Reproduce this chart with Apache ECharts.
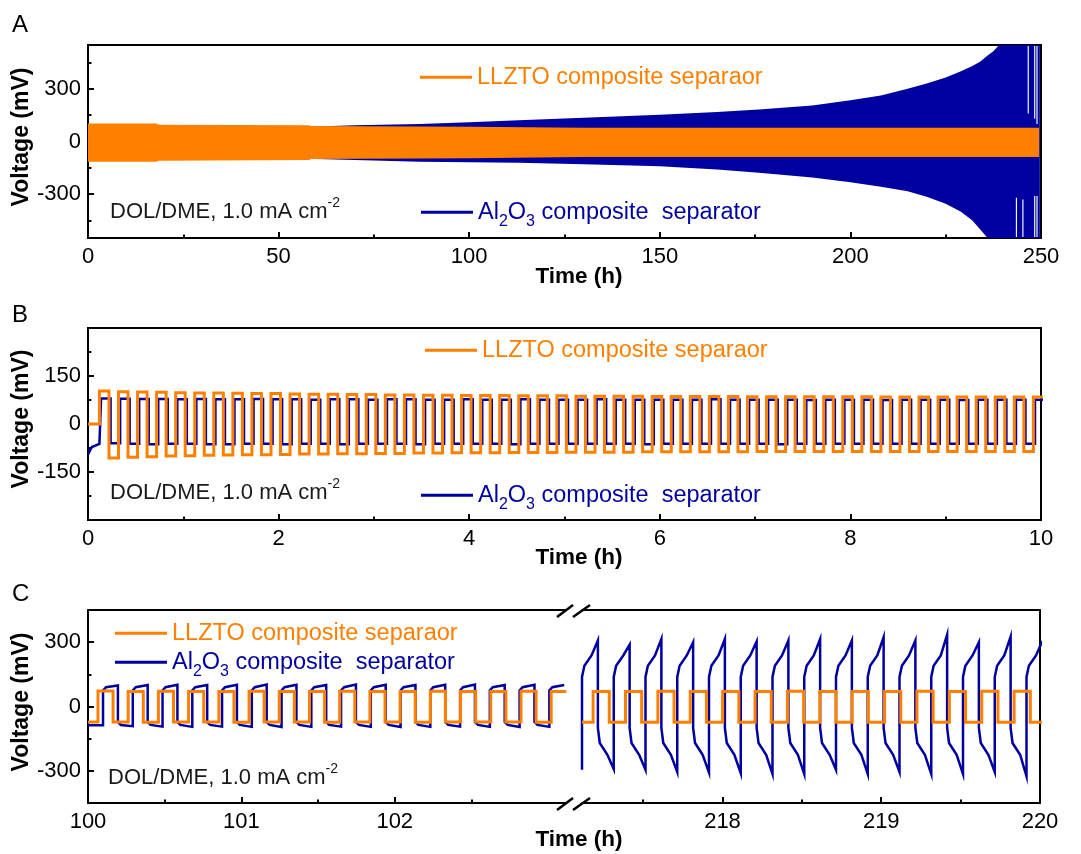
<!DOCTYPE html>
<html><head><meta charset="utf-8">
<script src="https://cdn.jsdelivr.net/npm/echarts@6/dist/echarts.min.js"></script>
<style>html,body{margin:0;padding:0;background:#fff}#c{width:1081px;height:854px}</style>
</head><body><div id="c"></div>
<script>
// ================= DATA =================
const NAME_O = 'LLZTO composite separaor';
const NAME_B = 'Al2O3 composite  separator';

// ---- Panel A: envelope (max / min voltage, mV) of the dense cycling traces vs time (h)
const aOrangeT  = [0, 18, 18.5, 58, 58.5, 100, 130, 249.5];
const aOrangeHi = [102, 102, 95, 92, 88, 84, 79, 79];
const aOrangeLo = [-116, -116, -110, -106, -100, -95, -88, -88];
const aBlueT  = [0, 60, 70, 87, 100, 113, 130, 150, 165, 176, 190, 200, 208, 215, 220, 225, 229, 232, 234, 236,
                 237.5, 239, 243.4, 243.4, 243.7, 243.7, 245.1, 245.1, 245.4, 245.4, 246.5, 246.5, 246.8, 246.8,
                 248.2, 248.2, 248.5, 248.5, 248.8, 248.8, 249.1, 249.1, 249.7];
const aBlueHi = [75, 85, 92, 100, 110, 121, 135, 152, 168, 182, 205, 235, 262, 300, 330, 365, 400, 430, 455, 490,
                 515, 550, 550, 550, 550, 550, 550, 550, 550, 550, 550, 160, 160, 550, 550, 130, 130, 550, 550, 100,
                 100, 550, 550];
const aBlueLo = [-65, -100, -106, -116, -118, -121, -130, -141, -160, -178, -205, -232, -258, -283, -315, -355, -400, -450, -500, -550,
                 -550, -550, -550, -320, -320, -550, -550, -330, -330, -550, -550, -550, -550, -550, -550, -310, -310, -550, -550, -310,
                 -310, -550, -550];

// ---- Panel B: first 10 h, plateau voltage of each half cycle (mV)
const bPeriod = 0.2;
const bOrangeFirst = 0.12, bBlueFirst = 0.137;
const bOrangePreT = [0], bOrangePreV = [0];
const bBluePreT = [0, 0.04, 0.12], bBluePreV = [-95, -72, -62];
const bOrangeHi = [103,101,100,99,98, 97,97,96,95,95, 94,93,93,92,92, 91,91,90,90,89, 89,89,88,88,88,
                   87,87,87,87,86, 86,86,86,86,85, 85,85,85,85,85, 85,84,84,84,84, 84,84,84,84,84];
const bOrangeLo = [-106,-104,-102,-100,-99, -98,-97,-96,-96,-95, -94,-94,-93,-93,-92, -92,-91,-91,-90,-90,
                   -90,-89,-89,-89,-88, -88,-88,-88,-87,-87, -87,-87,-87,-87,-86, -86,-86,-86,-86,-86,
                   -86,-86,-86,-86,-86, -86,-86,-86,-86];
const bBlueHi = [80,79,78,78,77, 78,77,77,78,77, 77,76,77,77,76, 77,77,76,76,77, 76,76,77,76,76,
                 76,77,76,76,76, 76,76,77,76,76, 76,76,75,76,76, 76,75,76,76,76, 75,76,76,76,76];
const bBlueLo = [-60,-62,-63,-62,-62, -63,-63,-62,-62,-63, -62,-62,-63,-62,-62, -62,-63,-62,-62,-62,
                 -62,-63,-62,-62,-62, -62,-62,-62,-63,-62, -62,-62,-62,-62,-62, -63,-62,-62,-62,-62,
                 -62,-62,-62,-62,-62, -62,-62,-62,-62];

// ---- Panel C left (100 - 103.11 h)
const cLeftRange = [100, 103.11];
const cLOrangeFirst = 100.065, cLOrangePeriod = 0.197;
const cLOrangePreT = [100], cLOrangePreV = [-72];
const cLOrangeHi = [72, 70, 71, 70, 70, 71, 70, 70, 71, 70, 70, 71, 70, 70, 71, 70];
const cLOrangeLo = [-72, -73, -72, -72, -73, -72, -72, -73, -72, -72, -73, -72, -72, -72, -73];
const cLBlueFirst = 100.098, cLBluePeriod = 0.194;
const cLBluePreT = [100], cLBluePreV = [-88];
const cLBlueHi = [98, 100, 101, 100, 101, 102, 101, 100, 102, 101, 100, 101, 102, 100, 101, 100];
const cLBlueLo = [-92, -94, -95, -94, -95, -96, -95, -94, -95, -96, -95, -94, -95, -96, -95];
const cLBluePosProfile = [[0, 75], [0.2, 90]];     // [fraction of half cycle, mV]
const cLBlueNegProfile = [[0, -72], [0.2, -86]];

// ---- Panel C right (217.115 - 220 h)
const cRightRange = [217.115, 220];
const cROrangeFirst = 217.185, cROrangePeriod = 0.204;
const cROrangePreT = [217.115], cROrangePreV = [-74];
const cROrangeHi = [70, 70, 71, 70, 70, 70, 71, 70, 70, 70, 71, 70, 71, 71];
const cROrangeLo = [-74, -74, -74, -73, -74, -74, -74, -73, -74, -74, -74, -74, -73, -74];
const cRBlueFirst = 217.115, cRBluePeriod = 0.2;
const cRBluePreT = [217.115], cRBluePreV = [-295];
const cRBluePeak   = [308, 289, 315, 300, 315, 303, 308, 315, 308, 323, 308, 335, 300, 326, 305];
const cRBlueTrough = [-292, -295, -305, -308, -311, -315, -315, -295, -315, -305, -315, -315, -305, -326];
const cRBluePosProfile = [[0, 138], [0.15, 190], [0.6, 238]];
const cRBlueNegProfile = [[0, -100], [0.12, -170], [0.6, -225]];

// ---- tick labels
const aYLabels = [-300, 0, 300], aYMinor = [-450, -150, 150, 450];
const cYLabels = [-300, 0, 300], cYMinor = [-150, 150];
const cLXLabels = [100, 101, 102], cLXMinor = [100.5, 101.5, 102.5];
const cRXLabels = [218, 219, 220], cRXMinor = [217.5, 218.5, 219.5];

// ================= BUILD =================
const FONT = "'Liberation Sans', Arial, Helvetica, sans-serif";
const ORANGE = '#FF8000';
const BLUE = '#0000A0';
const TXT = '#1a1a1a';
const TICK_FS = 22, LEG_FS = 23.5;

function buildWave(preT, preV, first, period, hi, lo, hiProfile, loProfile) {
  const pts = preT.map((t, i) => [t, preV[i]]);
  const half = period / 2;
  const halves = [];
  const n = Math.max(hi.length, lo.length);
  for (let k = 0; k < n; k++) {
    if (k < hi.length) halves.push([first + k * period, hi[k], hiProfile]);
    if (k < lo.length) halves.push([first + k * period + half, lo[k], loProfile]);
  }
  halves.forEach(([ts, end, prof]) => {
    pts.push([ts, pts[pts.length - 1][1]]);
    if (prof) prof.forEach(([f, v]) => pts.push([ts + f * half, v]));
    else pts.push([ts, end]);
    pts.push([ts + half, end]);
  });
  return pts;
}

function bandSeries(name, T, Hi, Lo, color, xi, yi) {
  return {
    type: 'custom', name: name, xAxisIndex: xi, yAxisIndex: yi, silent: true, animation: false,
    itemStyle: { color: color },
    data: T.map((t, i) => [t, Lo[i], Hi[i]]),
    encode: { x: 0, y: [1, 2] },
    renderItem: function (params, api) {
      if (params.dataIndex !== 0) return null;
      const up = T.map((t, i) => api.coord([t, Hi[i]]));
      const dn = T.map((t, i) => api.coord([t, Lo[i]])).reverse();
      return { type: 'polygon', shape: { points: up.concat(dn) }, style: { fill: color } };
    }
  };
}

function lineSeries(name, data, color, width, xi, yi) {
  return {
    type: 'line', name: name, data: data, xAxisIndex: xi, yAxisIndex: yi,
    showSymbol: false, symbol: 'none', clip: true, animation: false, silent: true,
    itemStyle: { color: color },
    lineStyle: { color: color, width: width, join: 'miter' }
  };
}

const lineStyleAxis = { show: true, onZero: false, lineStyle: { color: '#000', width: 2 } };
const noLine = { show: false, onZero: false };
const majorTick = (extra) => Object.assign({ show: true, inside: true, length: 6, lineStyle: { color: '#000', width: 2 } }, extra || {});
const minorTickOnly = (vals) => ({ show: true, inside: true, length: 3.5, customValues: vals, lineStyle: { color: '#000', width: 2 } });
const label = (extra) => Object.assign({ show: true, color: '#000', fontSize: TICK_FS, fontFamily: FONT, margin: 8 }, extra || {});
const noLabel = { show: false };
const noSplit = { show: false };
const minorNative = { show: true, splitNumber: 2, length: 3.5, lineStyle: { color: '#000', width: 2 } };

const G = (l, t, w, h, border) => ({ left: l, top: t, width: w, height: h, show: !!border, borderColor: '#000', borderWidth: 2, backgroundColor: 'transparent', containLabel: false, outerBoundsMode: 'none' });

const grids = [
  G(88, 45, 953, 193, true),    // 0 A
  G(88, 45, 953, 193, false),   // 1 A overlay (minor)
  G(88, 328, 953, 192, true),   // 2 B
  G(88, 610, 477, 193, false),  // 3 C left
  G(88, 610, 477, 193, false),  // 4 C left overlay
  G(582, 610, 458, 193, false), // 5 C right
  G(582, 610, 458, 193, false)  // 6 C right overlay
];

const xAxes = [
  { type: 'value', gridIndex: 0, min: 0, max: 250, interval: 50, axisLine: lineStyleAxis, axisTick: majorTick(),
    minorTick: minorNative, axisLabel: label(), splitLine: noSplit, minorSplitLine: noSplit },
  { type: 'value', gridIndex: 1, min: 0, max: 250, show: false, axisLine: noLine },
  { type: 'value', gridIndex: 2, min: 0, max: 10, interval: 2, axisLine: lineStyleAxis, axisTick: majorTick(),
    minorTick: minorNative, axisLabel: label(), splitLine: noSplit, minorSplitLine: noSplit },
  { type: 'value', gridIndex: 3, position: 'bottom', min: cLeftRange[0], max: cLeftRange[1], axisLine: lineStyleAxis,
    axisTick: majorTick({ customValues: cLXLabels }), axisLabel: label({ customValues: cLXLabels }), splitLine: noSplit },
  { type: 'value', gridIndex: 3, position: 'top', min: cLeftRange[0], max: cLeftRange[1], axisLine: lineStyleAxis,
    axisTick: { show: false }, axisLabel: noLabel, splitLine: noSplit },
  { type: 'value', gridIndex: 4, position: 'bottom', min: cLeftRange[0], max: cLeftRange[1], axisLine: noLine,
    axisTick: minorTickOnly(cLXMinor), axisLabel: noLabel, splitLine: noSplit },
  { type: 'value', gridIndex: 5, position: 'bottom', min: cRightRange[0], max: cRightRange[1], axisLine: lineStyleAxis,
    axisTick: majorTick({ customValues: cRXLabels }), axisLabel: label({ customValues: cRXLabels }), splitLine: noSplit },
  { type: 'value', gridIndex: 5, position: 'top', min: cRightRange[0], max: cRightRange[1], axisLine: lineStyleAxis,
    axisTick: { show: false }, axisLabel: noLabel, splitLine: noSplit },
  { type: 'value', gridIndex: 6, position: 'bottom', min: cRightRange[0], max: cRightRange[1], axisLine: noLine,
    axisTick: minorTickOnly(cRXMinor), axisLabel: noLabel, splitLine: noSplit }
];

const yAxes = [
  { type: 'value', gridIndex: 0, min: -550, max: 550, axisLine: lineStyleAxis,
    axisTick: majorTick({ customValues: aYLabels }), axisLabel: label({ customValues: aYLabels, margin: 7 }), splitLine: noSplit },
  { type: 'value', gridIndex: 1, min: -550, max: 550, axisLine: noLine,
    axisTick: minorTickOnly(aYMinor), axisLabel: noLabel, splitLine: noSplit },
  { type: 'value', gridIndex: 2, min: -300, max: 300, interval: 150, axisLine: lineStyleAxis, axisTick: majorTick(),
    minorTick: minorNative,
    axisLabel: label({ margin: 7, showMinLabel: false, showMaxLabel: false }), splitLine: noSplit, minorSplitLine: noSplit },
  { type: 'value', gridIndex: 3, position: 'left', min: -450, max: 450, axisLine: lineStyleAxis,
    axisTick: majorTick({ customValues: cYLabels }), axisLabel: label({ customValues: cYLabels, margin: 7 }), splitLine: noSplit },
  { type: 'value', gridIndex: 4, position: 'left', min: -450, max: 450, axisLine: noLine,
    axisTick: minorTickOnly(cYMinor), axisLabel: noLabel, splitLine: noSplit },
  { type: 'value', gridIndex: 5, position: 'right', min: -450, max: 450, axisLine: lineStyleAxis,
    axisTick: { show: false }, axisLabel: noLabel, splitLine: noSplit },
  { type: 'value', gridIndex: 6, min: -450, max: 450, show: false, axisLine: noLine }
];

const series = [
  bandSeries(NAME_B, aBlueT, aBlueHi, aBlueLo, BLUE, 0, 0),
  bandSeries(NAME_O, aOrangeT, aOrangeHi, aOrangeLo, ORANGE, 0, 0),
  lineSeries(NAME_B, buildWave(bBluePreT, bBluePreV, bBlueFirst, bPeriod, bBlueHi, bBlueLo), BLUE, 2.5, 2, 2),
  lineSeries(NAME_O, buildWave(bOrangePreT, bOrangePreV, bOrangeFirst, bPeriod, bOrangeHi, bOrangeLo), ORANGE, 3, 2, 2),
  lineSeries(NAME_B, buildWave(cLBluePreT, cLBluePreV, cLBlueFirst, cLBluePeriod, cLBlueHi, cLBlueLo, cLBluePosProfile, cLBlueNegProfile), BLUE, 2.5, 3, 3),
  lineSeries(NAME_O, buildWave(cLOrangePreT, cLOrangePreV, cLOrangeFirst, cLOrangePeriod, cLOrangeHi, cLOrangeLo), ORANGE, 3, 3, 3),
  lineSeries(NAME_B, buildWave(cRBluePreT, cRBluePreV, cRBlueFirst, cRBluePeriod, cRBluePeak, cRBlueTrough, cRBluePosProfile, cRBlueNegProfile), BLUE, 2.5, 6, 5),
  lineSeries(NAME_O, buildWave(cROrangePreT, cROrangePreV, cROrangeFirst, cROrangePeriod, cROrangeHi, cROrangeLo), ORANGE, 3, 6, 5)
];

// legends
const subRich = {
  s: { fontSize: 16, fontFamily: FONT, color: BLUE, padding: [18, 0, 0, 0] }
};
function legendO(left, cy) {
  return { data: [{ name: NAME_O, itemStyle: { color: ORANGE } }], left: left, top: cy - LEG_FS / 2, padding: 0,
    icon: 'rect', itemWidth: 52, itemHeight: 3, selectedMode: false,
    textStyle: { color: ORANGE, fontSize: LEG_FS, fontFamily: FONT } };
}
function legendB(left, cy) {
  return { data: [{ name: NAME_B, itemStyle: { color: BLUE } }], left: left, top: cy - LEG_FS / 2, padding: 0,
    icon: 'rect', itemWidth: 52, itemHeight: 3, selectedMode: false,
    formatter: () => 'Al{s|2}O{s|3} composite  separator',
    textStyle: { color: BLUE, fontSize: LEG_FS, fontFamily: FONT, rich: subRich } };
}
const legends = [legendO(420, 77), legendB(421, 212), legendO(425, 350), legendB(421, 495), legendO(115, 633), legendB(115, 662)];

// graphics (texts, break marks)
const graphics = [];
function txt(x, y, text, o) {
  o = o || {};
  const style = {
    text: text, x: 0, y: 0, fill: o.color || '#000', fontSize: o.size || 21, fontFamily: FONT, fontWeight: o.weight || 'normal',
    textAlign: o.align || 'left', textVerticalAlign: 'middle', align: o.align || 'left', verticalAlign: 'middle'
  };
  if (o.rich) style.rich = o.rich;
  graphics.push({ type: 'text', x: x, y: y, rotation: o.rot || 0, silent: true, style: style });
}
const supRich = { sup: { fontSize: 14, fontFamily: FONT, fill: TXT, padding: [0, 0, 18, 0] } };
[['A', 25], ['B', 315], ['C', 594]].forEach(([t, y]) => txt(12, y, t, { size: 24 }));
[137, 419, 702].forEach(y => txt(22, y, 'Voltage (mV)', { weight: 'bold', align: 'center', rot: Math.PI / 2, size: 23 }));
[277, 558, 840].forEach(y => txt(579, y, 'Time (h)', { weight: 'bold', align: 'center', size: 22.5 }));
[[110, 212], [110, 493], [108, 778]].forEach(([x, y]) => txt(x, y, 'DOL/DME, 1.0 mA cm{sup|-2}', { size: 22, color: TXT, rich: supRich }));
[[557, 617, 573, 605], [573, 617, 590, 605], [557, 810, 573, 798], [573, 810, 590, 798]].forEach(([x1, y1, x2, y2]) =>
  graphics.push({ type: 'line', silent: true, shape: { x1: x1, y1: y1, x2: x2, y2: y2 }, style: { stroke: '#000', lineWidth: 2.5 } }));

const chart = echarts.init(document.getElementById('c'), null, { renderer: 'canvas' });
chart.setOption({
  backgroundColor: '#fff',
  animation: false,
  grid: grids,
  xAxis: xAxes,
  yAxis: yAxes,
  legend: legends,
  series: series,
  graphic: graphics
});
</script></body></html>
